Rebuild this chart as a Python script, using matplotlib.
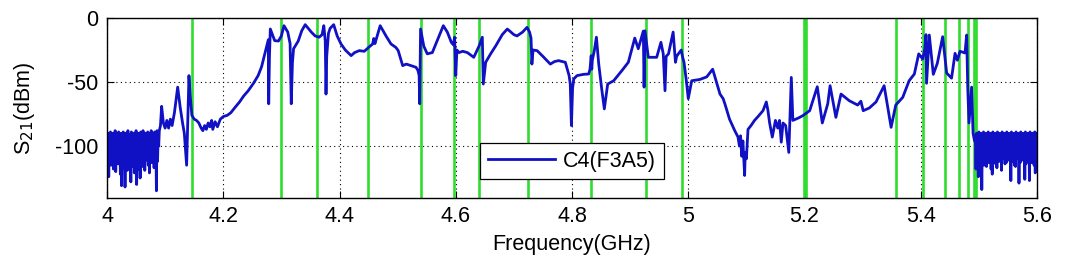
import numpy as np
import matplotlib
matplotlib.use("Agg")
import matplotlib.pyplot as plt

# ---------------- data ----------------
# noisy floor below the band (4.000 - 4.090 GHz), dB values
left_noise_db = [
    -95, -112, -90, -124, -92, -108, -89, -115, -94, -104,
    -90, -118, -93, -110, -88, -120, -96, -106, -91, -114,
    -89, -109, -93, -122, -90, -131, -95, -111, -89, -117,
    -92, -132, -90, -108, -94, -119, -88, -113, -91, -105,
    -93, -128, -89, -116, -95, -110, -90, -121, -92, -107,
    -88, -130, -94, -112, -90, -118, -93, -125, -89, -109,
    -91, -116, -88, -106, -94, -119, -90, -111, -92, -104,
    -89, -115, -93, -121, -90, -108, -88, -113, -94, -103,
    -90, -117, -89, -109, -92, -135, -88, -112, -91, -100,
    -88]
left_noise_range = (4.000, 4.090)

# main response (GHz, dB)
main_freq = [
    4.092, 4.094, 4.097, 4.100, 4.103, 4.106, 4.109, 4.112, 4.116, 4.1216,
    4.126, 4.130, 4.133, 4.137, 4.139, 4.141, 4.143, 4.146, 4.150, 4.154,
    4.158, 4.162, 4.165, 4.168, 4.171, 4.174, 4.177, 4.180, 4.182, 4.186,
    4.190, 4.195, 4.200, 4.207, 4.213, 4.220, 4.228, 4.235, 4.243, 4.252,
    4.260, 4.266, 4.271, 4.275, 4.2775, 4.2782, 4.2795, 4.281, 4.2885, 4.295,
    4.300, 4.3045, 4.311, 4.315, 4.317, 4.319, 4.321, 4.329, 4.335, 4.341,
    4.3515, 4.358, 4.365, 4.370, 4.373, 4.3755, 4.3768, 4.378, 4.381, 4.384,
    4.390, 4.396, 4.4026, 4.410, 4.420, 4.426, 4.434, 4.4427, 4.450, 4.457,
    4.459, 4.461, 4.470, 4.480, 4.4886, 4.497, 4.501, 4.5087, 4.515, 4.523,
    4.5316, 4.535, 4.537, 4.538, 4.5395, 4.545, 4.551, 4.5597, 4.568, 4.5786,
    4.5855, 4.5924, 4.596, 4.598, 4.600, 4.602, 4.6056, 4.612, 4.620, 4.631,
    4.640, 4.6457, 4.6474, 4.6515, 4.660, 4.669, 4.680, 4.6887, 4.700, 4.7054,
    4.715, 4.7226, 4.727, 4.7295, 4.731, 4.733, 4.740, 4.750, 4.7627, 4.770,
    4.777, 4.7885, 4.795, 4.797, 4.799, 4.801, 4.803, 4.8086, 4.820, 4.8287,
    4.831, 4.833, 4.834, 4.835, 4.8384, 4.842, 4.846, 4.851, 4.8556, 4.8614,
    4.8717, 4.886, 4.8969, 4.908, 4.914, 4.9227, 4.924, 4.9256, 4.9313, 4.9457,
    4.953, 4.957, 4.960, 4.962, 4.966, 4.974, 4.978, 4.980, 4.983, 4.988,
    4.990, 4.9927, 4.997, 5.000, 5.006, 5.020, 5.0318, 5.042, 5.0546, 5.060,
    5.063, 5.071, 5.080, 5.0856, 5.088, 5.090, 5.092, 5.094, 5.096, 5.097,
    5.098, 5.100, 5.1028, 5.108, 5.114, 5.120, 5.1286, 5.1343, 5.137, 5.140,
    5.1446, 5.150, 5.154, 5.157, 5.160, 5.163, 5.1676, 5.173, 5.1773, 5.180,
    5.190, 5.197, 5.2089, 5.222, 5.2306, 5.240, 5.244, 5.254, 5.2628, 5.277,
    5.2915, 5.297, 5.301, 5.3115, 5.323, 5.337, 5.349, 5.357, 5.369, 5.380,
    5.389, 5.3965, 5.4034, 5.407, 5.409, 5.410, 5.4147, 5.4216, 5.4285, 5.4377,
    5.4446, 5.453, 5.459, 5.463, 5.4675, 5.4761, 5.479, 5.4808, 5.483, 5.4875,
    5.490, 5.4925]
main_db = [
    -84, -69, -82, -86, -80, -86, -79, -84, -74, -54,
    -70, -82, -90, -115, -80, -45, -60, -76, -79, -80,
    -82, -86, -88, -84, -87, -82, -85, -80, -87, -81,
    -85, -79, -77, -76, -74, -70, -65.6, -61, -56.8, -51,
    -45, -38, -29, -22, -17, -67, -30, -8.6, -17.7, -18,
    -14, -6, -11, -20, -67, -35, -24, -18, -10, -5.2,
    -11, -14, -15, -13, -6, -18, -59.4, -30, -12, -8,
    -5.2, -14, -20.3, -25, -29.4, -27, -25.5, -26, -23, -20.3,
    -16, -20, -6, -14, -20.3, -23, -25.5, -37.2, -36, -37.2,
    -38.5, -41, -45, -67, -8.6, -22, -28, -27, -17.7, -6,
    -11, -19, -21, -15, -45, -25, -27, -26, -27, -30.7,
    -22, -15, -51.6, -34.6, -28, -21.6, -13, -8.6, -13, -14,
    -11, -7.3, -11, -15.7, -36, -25, -25.5, -30, -36, -34,
    -33.3, -34.6, -45, -51.6, -84, -55, -47.6, -45, -44, -43.75,
    -40, -29.4, -40, -33, -25.5, -15, -36, -55, -71, -51.6,
    -49, -41, -34.6, -15.7, -24, -10.2, -54, -10, -30.7, -30.7,
    -19, -28, -56.8, -30, -28, -11, -34.6, -30, -28, -25,
    -30, -34.6, -50, -63, -49, -48, -46, -40, -59.4, -63,
    -67, -79, -88, -93, -100, -92, -108, -96, -115, -123,
    -105, -110, -87, -84, -80, -77, -72.4, -65.6, -72, -82,
    -93, -80, -86, -80, -97, -82, -84, -105, -46.4, -80,
    -78, -76.3, -72.4, -53.7, -82, -67, -52.9, -77.6, -59.4, -64.6,
    -68, -65, -72.4, -70.3, -65.6, -52.9, -85.4, -68, -62, -49,
    -43.75, -28, -32, -24, -13, -51, -13.3, -44, -35.4, -14.6,
    -43, -47, -27.6, -33, -26, -27.3, -13.3, -53.7, -82, -54,
    -90, -96]

# noisy floor above the band (5.494 - 5.600 GHz)
right_noise_db = [
    -92, -118, -90, -110, -93, -124, -89, -112, -91, -106,
    -90, -134, -92, -108, -89, -115, -93, -110, -90, -116,
    -91, -107, -89, -113, -92, -109, -90, -118, -93, -122,
    -89, -111, -92, -106, -90, -114, -91, -117, -89, -108,
    -93, -112, -90, -105, -92, -119, -89, -110, -91, -107,
    -90, -114, -92, -113, -89, -109, -93, -111, -90, -106,
    -91, -127, -89, -112, -92, -108, -90, -115, -93, -116,
    -89, -110, -91, -106, -90, -129, -92, -113, -89, -109,
    -93, -111, -90, -108, -91, -126, -89, -114, -92, -107,
    -90, -112, -91, -127, -89, -109, -93, -113, -90, -106,
    -92, -115, -89, -121, -91, -110, -90]
right_noise_range = (5.494, 5.600)

# green marker frequencies (GHz)
marker_freqs = [4.147, 4.2994, 4.3608, 4.4485, 4.5397, 4.597, 4.640, 4.7238,
                4.832, 4.9268, 4.9887, 5.1995, 5.2025, 5.3574, 5.4034, 5.4417,
                5.4658, 5.4808, 5.4912, 5.4945]

legend_label = "C4(F3A5)"
x_ticks = [4, 4.2, 4.4, 4.6, 4.8, 5, 5.2, 5.4, 5.6]
x_tick_labels = ["4", "4.2", "4.4", "4.6", "4.8", "5", "5.2", "5.4", "5.6"]
y_ticks = [-100, -50, 0]
y_tick_labels = ["-100", "-50", "0"]

# ---------------- build curve ----------------
lx = np.linspace(left_noise_range[0], left_noise_range[1], len(left_noise_db))
rx = np.linspace(right_noise_range[0], right_noise_range[1], len(right_noise_db))
freq = np.concatenate([lx, np.array(main_freq), rx])
s21 = np.concatenate([np.array(left_noise_db, float), np.array(main_db, float),
                      np.array(right_noise_db, float)])

# ---------------- plot ----------------
plt.rcParams['font.family'] = ['Liberation Sans', 'DejaVu Sans']
fig = plt.figure(figsize=(10.66, 2.61), dpi=100)
ax = fig.add_axes([107/1066, 1 - 198/261, 930/1066, 180/261])

for f in marker_freqs:
    ax.axvline(f, color='#2fdc2f', lw=1.9, zorder=2)

ax.plot(freq, s21, color='#1010c4', lw=2.0, label=legend_label, zorder=3)

ax.set_xlim(4, 5.6)
ax.set_ylim(-140.6, 0)
ax.set_xticks(x_ticks)
ax.set_xticklabels(x_tick_labels)
ax.set_yticks(y_ticks)
ax.set_yticklabels(y_tick_labels)
ax.grid(True, color='black', linestyle=(0, (1, 3)), linewidth=0.8)
ax.tick_params(direction='in', length=5, width=0.8, labelsize=15.5,
               top=True, right=True, pad=6)
for sp in ax.spines.values():
    sp.set_linewidth(1.0)
    sp.set_zorder(5)

ax.set_xlabel("Frequency(GHz)", fontsize=15.5, labelpad=5)
ax.set_ylabel(r"S$_{21}$(dBm)", fontsize=15.5, labelpad=13)

leg = ax.legend(loc='lower center', bbox_to_anchor=(0.5, 0.045), fontsize=15.5,
                handlelength=3.1, fancybox=False, framealpha=1,
                edgecolor='black', borderpad=0.35, handletextpad=0.4)
leg.get_frame().set_linewidth(0.9)

fig.savefig("out.png", dpi=100)
